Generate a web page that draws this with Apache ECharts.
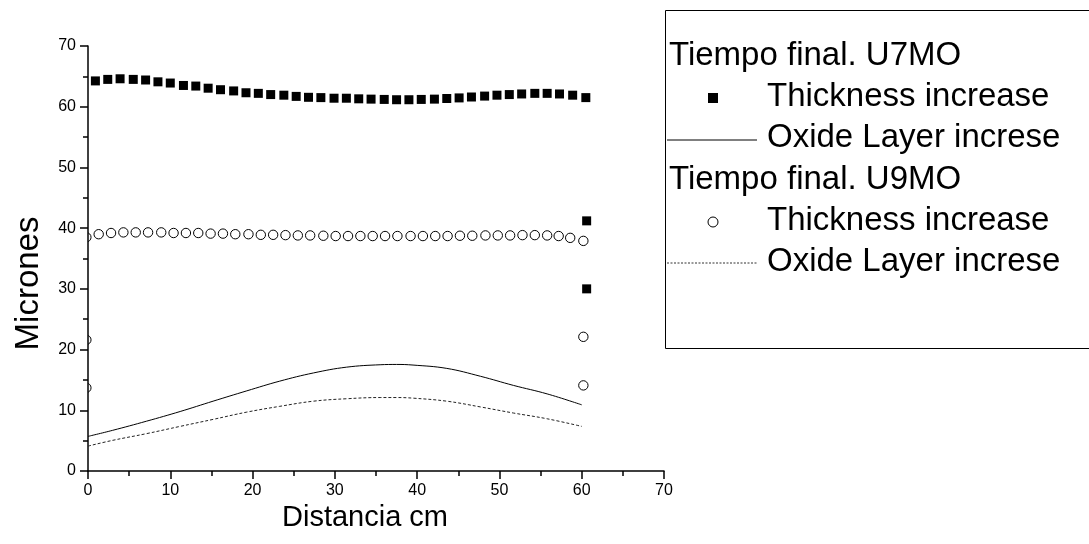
<!DOCTYPE html>
<html>
<head>
<meta charset="utf-8">
<script src="https://cdn.jsdelivr.net/npm/echarts@6/dist/echarts.min.js"></script>
<style>
  html, body { margin: 0; padding: 0; background: #fff; }
  #chart { width: 1089px; height: 544px; }
</style>
</head>
<body>
<div id="chart"></div>
<script>
// Tiempo final U7MO: thickness increase (filled squares)
const u7ThickX = [0.9, 2.4, 3.9, 5.5, 7.0, 8.5, 10.0, 11.6, 13.1, 14.6, 16.1, 17.7, 19.2, 20.7, 22.2, 23.8, 25.3, 26.8, 28.3, 29.9,
                  31.4, 32.9, 34.4, 36.0, 37.5, 39.0, 40.5, 42.1, 43.6, 45.1, 46.6, 48.2, 49.7, 51.2, 52.7, 54.3, 55.8, 57.3, 58.9, 60.5,
                  60.6, 60.6];
const u7ThickY = [64.25, 64.5, 64.6, 64.5, 64.4, 64.1, 63.9, 63.5, 63.4, 63.05, 62.8, 62.6, 62.3, 62.2, 62.0, 61.9, 61.7, 61.55, 61.5, 61.4,
                  61.4, 61.3, 61.25, 61.2, 61.15, 61.15, 61.2, 61.25, 61.35, 61.45, 61.6, 61.75, 61.9, 62.0, 62.1, 62.2, 62.2, 62.1, 61.9, 61.5,
                  41.2, 30.0];

// Tiempo final U9MO: thickness increase (open circles)
const u9ThickX = [-0.2, -0.2, -0.2,
                  1.3, 2.8, 4.3, 5.8, 7.3, 8.9, 10.4, 11.9, 13.4, 14.9, 16.4, 17.9, 19.5, 21.0, 22.5, 24.0, 25.5, 27.0, 28.6, 30.1,
                  31.6, 33.1, 34.6, 36.1, 37.6, 39.2, 40.7, 42.2, 43.7, 45.2, 46.7, 48.3, 49.8, 51.3, 52.8, 54.3, 55.8, 57.2, 58.6, 60.2,
                  60.2, 60.2];
const u9ThickY = [38.5, 21.6, 13.7,
                  39.0, 39.2, 39.3, 39.3, 39.3, 39.3, 39.2, 39.2, 39.2, 39.1, 39.1, 39.0, 39.0, 38.9, 38.9, 38.85, 38.8, 38.8, 38.75, 38.7,
                  38.7, 38.7, 38.7, 38.7, 38.7, 38.7, 38.7, 38.7, 38.7, 38.75, 38.75, 38.8, 38.8, 38.8, 38.85, 38.85, 38.8, 38.7, 38.4, 37.9,
                  22.1, 14.1];

// Oxide layer increase curves
const oxideX   = [0, 3.0, 7.1, 11.2, 15.2, 19.3, 23.3, 27.4, 31.4, 35.5, 37.5, 39.5, 43.6, 47.7, 51.7, 55.8, 60.0];
const u7OxideY = [5.7, 6.7, 8.2, 9.8, 11.5, 13.2, 14.8, 16.15, 17.1, 17.5, 17.55, 17.45, 16.9, 15.6, 14.1, 12.7, 10.9];
const u9OxideY = [4.1, 5.05, 6.15, 7.35, 8.5, 9.7, 10.65, 11.5, 11.9, 12.1, 12.1, 12.0, 11.5, 10.55, 9.55, 8.6, 7.35];

// Axis ticks
const xTicks = [0, 10, 20, 30, 40, 50, 60, 70];
const yTicks = [0, 10, 20, 30, 40, 50, 60, 70];

const groupTitles = ['Tiempo final. U7MO', 'Tiempo final. U9MO'];
const thickName = 'Thickness increase';
const oxideName = 'Oxide Layer increse';

const FONT = '"Liberation Sans", Arial, sans-serif';
const zip = (xs, ys) => xs.map((x, i) => [x, ys[i]]);

const chart = echarts.init(document.getElementById('chart'), null, { renderer: 'canvas' });

const axisCommon = {
  type: 'value',
  min: 0,
  max: 70,
  interval: 10,
  axisLine: { show: true, onZero: false, lineStyle: { color: '#000', width: 1.5 } },
  axisTick: { show: true, inside: false, length: 8, lineStyle: { color: '#000', width: 1.5 } },
  minorTick: { show: true, splitNumber: 2, length: 5, lineStyle: { color: '#000', width: 1.5 } },
  splitLine: { show: false },
  axisLabel: { color: '#000', fontSize: 16, fontFamily: FONT },
  nameLocation: 'middle'
};

// Legend panel: two groups, each with a title, a marker row and a line row
const legendItems = [];
legendItems.push({
  type: 'rect', left: 665, top: 10, z: 10,
  shape: { width: 440, height: 338 },
  style: { fill: '#fff', stroke: '#000', lineWidth: 1 }
});
const rowY = [56, 97, 138, 180, 221, 262];
const textStyle = (t) => ({ text: t, fill: '#000', font: '33px ' + FONT, textVerticalAlign: 'middle' });
legendItems.push({ type: 'text', x: 669, y: rowY[0], z: 11, style: textStyle(groupTitles[0]) });
legendItems.push({ type: 'text', x: 767, y: rowY[1], z: 11, style: textStyle(thickName) });
legendItems.push({ type: 'text', x: 767, y: rowY[2], z: 11, style: textStyle(oxideName) });
legendItems.push({ type: 'text', x: 669, y: rowY[3], z: 11, style: textStyle(groupTitles[1]) });
legendItems.push({ type: 'text', x: 767, y: rowY[4], z: 11, style: textStyle(thickName) });
legendItems.push({ type: 'text', x: 767, y: rowY[5], z: 11, style: textStyle(oxideName) });
legendItems.push({ type: 'rect', x: 708, y: rowY[1] - 4, z: 11, shape: { width: 10, height: 10 }, style: { fill: '#000' } });
legendItems.push({ type: 'line', z: 11, shape: { x1: 667, y1: rowY[2] + 2, x2: 757, y2: rowY[2] + 2 }, style: { stroke: '#000', lineWidth: 1 } });
legendItems.push({ type: 'circle', z: 11, shape: { cx: 713, cy: rowY[4] + 1, r: 5 }, style: { fill: 'none', stroke: '#000', lineWidth: 1 } });
legendItems.push({ type: 'line', z: 11, shape: { x1: 667, y1: rowY[5] + 1, x2: 757, y2: rowY[5] + 1 }, style: { stroke: '#333', lineWidth: 1, lineDash: [2, 1.5] } });

chart.setOption({
  backgroundColor: '#fff',
  animation: false,
  grid: { left: 88, top: 46, width: 576, height: 425, containLabel: false },
  xAxis: Object.assign({}, axisCommon, {
    name: 'Distancia cm', nameGap: 19,
    nameTextStyle: { color: '#000', fontFamily: FONT, fontSize: 29, padding: [0, 22, 0, 0] },
    axisLabel: Object.assign({}, axisCommon.axisLabel, { margin: 12, formatter: (v) => xTicks.includes(v) ? String(v) : '' })
  }),
  yAxis: Object.assign({}, axisCommon, {
    name: 'Micrones', nameGap: 43,
    nameTextStyle: { color: '#000', fontFamily: FONT, fontSize: 33, padding: [0, 50, 0, 0] },
    axisLabel: Object.assign({}, axisCommon.axisLabel, { margin: 12, formatter: (v) => yTicks.includes(v) ? String(v) : '' })
  }),
  graphic: legendItems,
  series: [
    {
      name: groupTitles[0] + ' ' + thickName,
      type: 'scatter',
      symbol: 'rect',
      symbolSize: 9,
      itemStyle: { color: '#000', opacity: 1 },
      clip: true,
      data: zip(u7ThickX, u7ThickY)
    },
    {
      name: groupTitles[0] + ' ' + oxideName,
      type: 'line',
      smooth: 0.4,
      showSymbol: false,
      lineStyle: { color: '#000', width: 1 },
      data: zip(oxideX, u7OxideY)
    },
    {
      name: groupTitles[1] + ' ' + thickName,
      type: 'custom',
      clip: true,
      renderItem: (params, api) => {
        const p = api.coord([api.value(0), api.value(1)]);
        return {
          type: 'circle',
          shape: { cx: p[0], cy: p[1], r: 4.7 },
          style: { fill: 'none', stroke: '#000', lineWidth: 1 }
        };
      },
      encode: { x: 0, y: 1 },
      data: zip(u9ThickX, u9ThickY)
    },
    {
      name: groupTitles[1] + ' ' + oxideName,
      type: 'line',
      smooth: 0.4,
      showSymbol: false,
      lineStyle: { color: '#222', width: 1, type: [3, 2] },
      data: zip(oxideX, u9OxideY)
    }
  ]
});
</script>
</body>
</html>
